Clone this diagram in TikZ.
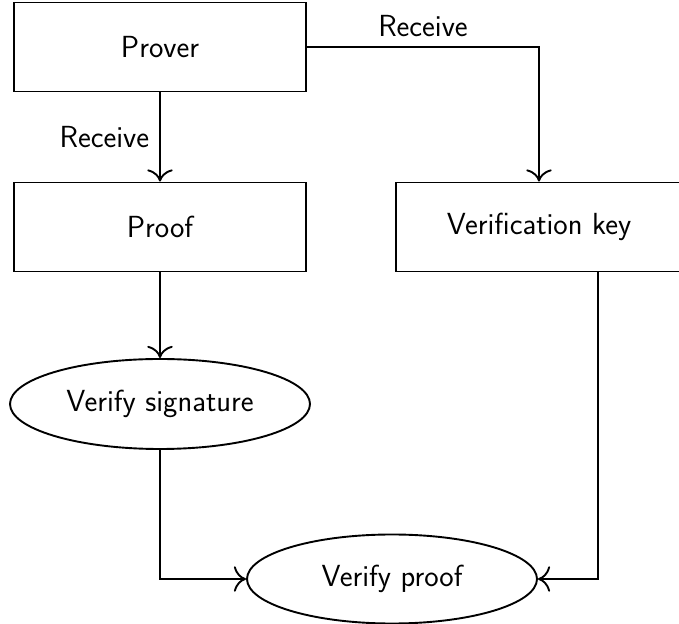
\documentclass[tikz,border=0pt]{standalone}
\usepackage{fontspec}
\usetikzlibrary{shapes.geometric,arrows.meta}
\begin{document}
\begin{tikzpicture}[x=1pt,y=1pt,
  every node/.style={font=\sffamily\fontsize{30.5}{34}\selectfont},
  box/.style={draw,line width=1.9pt,rectangle,minimum width=292pt,minimum height=89pt,inner sep=0pt},
  oval/.style={draw,line width=1.9pt,ellipse,inner sep=0pt},
  link/.style={line width=1.9pt,-{To[scale=2.1]}},
  tag/.style={inner sep=0pt}]
\useasboundingbox (0,0) rectangle (679,623);
\node[box] (prover) at (160,576) {Prover};
\node[box] (proof) at (160,396) {Proof};
\node[box,minimum width=286pt] (vkey) at (539,396) {Verification key};
\node[oval,minimum width=300pt,minimum height=90pt] (vsig) at (160,219) {Verify signature};
\node[oval,minimum width=290pt,minimum height=89pt] (vproof) at (392,44) {Verify proof};
\draw[link] (prover) -- node[tag,left=10pt] {Receive} (proof);
\draw[link] (prover.east) -| node[tag,pos=0.25,above=9pt] {Receive} (vkey.north);
\draw[link] (proof) -- (vsig);
\draw[link] (vsig.south) |- (vproof.west);
\draw[link] ([xshift=59pt]vkey.south) |- (vproof.east);
\end{tikzpicture}
\end{document}
